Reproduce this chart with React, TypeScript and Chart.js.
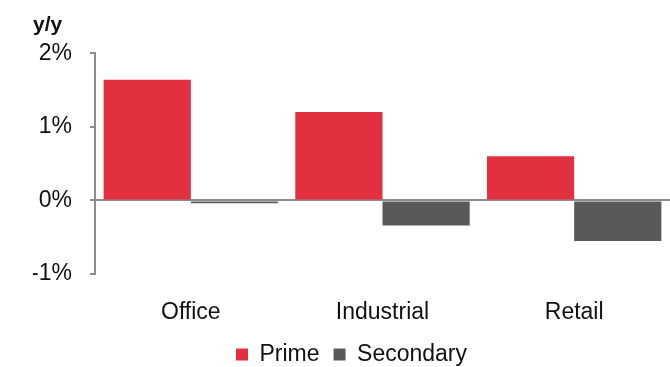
import React, { useEffect, useRef } from "react";
import { Chart, registerables } from "chart.js";

Chart.register(...registerables);

// Year-on-year rental growth by sector
const categories = ["Office", "Industrial", "Retail"];
const primeValues = [1.64, 1.2, 0.6];
const secondaryValues = [-0.04, -0.34, -0.55];
const yTicks = [-1, 0, 1, 2];

const RED = "#E3303F";
const GREY = "#58595B";
const AXIS = "#8C8C8C";
const FONT = "'Liberation Sans', Arial, sans-serif";

export default function App() {
  const canvasRef = useRef<HTMLCanvasElement | null>(null);

  useEffect(() => {
    const canvas = canvasRef.current;
    if (!canvas) return;
    const chart = new Chart(canvas, {
      type: "bar",
      data: {
        labels: categories,
        datasets: [
          {
            label: "Prime",
            data: primeValues,
            backgroundColor: RED,
            borderWidth: 0,
            categoryPercentage: 0.91,
            barPercentage: 1,
          },
          {
            label: "Secondary",
            data: secondaryValues,
            backgroundColor: GREY,
            borderWidth: 0,
            categoryPercentage: 0.91,
            barPercentage: 1,
          },
        ],
      },
      options: {
        animation: false,
        responsive: false,
        maintainAspectRatio: false,
        layout: { padding: { left: 33, right: 0, top: 13, bottom: -9 } },
        plugins: {
          tooltip: { enabled: false },
          title: {
            display: true,
            text: "y/y",
            align: "start",
            position: "top",
            color: "#111",
            font: { family: FONT, size: 21, weight: "bold" },
            padding: { top: 0, bottom: 15 },
          },
          legend: {
            position: "bottom",
            labels: {
              boxWidth: 12,
              boxHeight: 12,
              padding: 14,
              color: "#111",
              font: { family: FONT, size: 23 },
            },
          },
        },
        scales: {
          x: {
            grid: { display: false, drawTicks: false },
            border: { display: false },
            ticks: {
              color: "#111",
              font: { family: FONT, size: 23 },
              padding: 25,
            },
            afterFit: (scale: any) => {
              scale.height = 55;
            },
          },
          y: {
            min: Math.min(...yTicks),
            max: Math.max(...yTicks),
            afterBuildTicks: (scale: any) => {
              scale.ticks = yTicks.map((v) => ({ value: v }));
            },
            afterFit: (scale: any) => {
              scale.width = 62;
            },
            grid: {
              color: (ctx: any) =>
                ctx.tick && ctx.tick.value === 0 ? AXIS : "transparent",
              lineWidth: 2,
              tickColor: AXIS,
              tickLength: 5,
              drawTicks: true,
            },
            border: { display: true, color: AXIS, width: 2 },
            ticks: {
              color: "#111",
              font: { family: FONT, size: 23 },
              padding: 18,
              callback: (v: any) => `${v}%`,
            },
          },
        },
      },
    });
    return () => chart.destroy();
  }, []);

  return (
    <div style={{ position: "fixed", left: 0, top: 0, width: 670, height: 367, background: "#fff" }}>
      <canvas ref={canvasRef} width={670} height={367} style={{ width: 670, height: 367 }} />
    </div>
  );
}
